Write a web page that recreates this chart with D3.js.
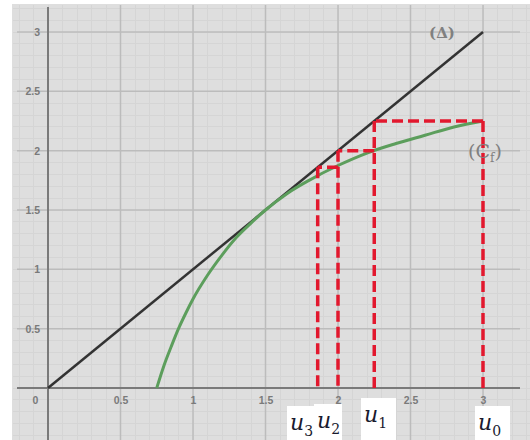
<!DOCTYPE html>
<html><head><meta charset="utf-8">
<script src="https://cdn.jsdelivr.net/npm/d3@7"></script>
<style>html,body{margin:0;padding:0;background:#fff;}svg{display:block;}</style>
</head><body>
<svg id="c" width="530" height="440"></svg>
<script>
// ---- data ----
const xTicks = [0, 0.5, 1, 1.5, 2, 2.5, 3];
const yTicks = [0.5, 1, 1.5, 2, 2.5, 3];
const deltaX = [0, 3];
const deltaY = [0, 3];
const curveX = [0.75, 0.8, 0.85, 0.9, 0.95, 1.0, 1.1, 1.2, 1.3, 1.4, 1.5, 1.65, 1.8, 2.0, 2.2, 2.4, 2.6, 2.8, 3.0];
const curveY = [0, 0.19, 0.35, 0.5, 0.63, 0.75, 0.95, 1.12, 1.27, 1.39, 1.5, 1.64, 1.75, 1.875, 1.98, 2.06, 2.13, 2.2, 2.25];
const uValues = [3, 2.25, 2.0, 1.86];
const uNames = ["u0", "u1", "u2", "u3"];

const svg = d3.select("#c");
const x = d3.scaleLinear().domain([0, 3]).range([48, 483]);
const y = d3.scaleLinear().domain([0, 3]).range([388, 32]);

// background
svg.append("rect").attr("x", 12).attr("y", 4).attr("width", 518).attr("height", 436).attr("fill", "#dedede");

// minor grid
const minorX = d3.range(-2, 35).map(d => d / 10);
const minorY = d3.range(-4, 33).map(d => d / 10);
const g = svg.append("g");
g.selectAll(".mx").data(minorX).join("line")
  .attr("x1", d => x(d)).attr("x2", d => x(d)).attr("y1", 5).attr("y2", 440)
  .attr("stroke", "#d5d5d5").attr("stroke-width", 1).attr("shape-rendering", "crispEdges");
g.selectAll(".my").data(minorY).join("line")
  .attr("y1", d => y(d)).attr("y2", d => y(d)).attr("x1", 13).attr("x2", 530)
  .attr("stroke", "#d5d5d5").attr("stroke-width", 1).attr("shape-rendering", "crispEdges");
// major grid
g.selectAll(".Mx").data(xTicks.slice(1)).join("line")
  .attr("x1", d => x(d)).attr("x2", d => x(d)).attr("y1", 5).attr("y2", 440)
  .attr("stroke", "#bcbcbc").attr("stroke-width", 1.5);
g.selectAll(".My").data(yTicks).join("line")
  .attr("y1", d => y(d)).attr("y2", d => y(d)).attr("x1", 17).attr("x2", 520)
  .attr("stroke", "#bcbcbc").attr("stroke-width", 1.5);

// axes lines
svg.append("line").attr("x1", 17).attr("x2", 520).attr("y1", y(0)).attr("y2", y(0))
  .attr("stroke", "#7a7a7a").attr("stroke-width", 2);
svg.append("line").attr("x1", x(0)).attr("x2", x(0)).attr("y1", 7).attr("y2", 440)
  .attr("stroke", "#7a7a7a").attr("stroke-width", 2);

// tick labels via d3 axes
const xa = svg.append("g").attr("transform", `translate(0,${y(0)})`)
  .call(d3.axisBottom(x).tickValues(xTicks).tickSize(0).tickPadding(9).tickFormat(d => d));
const ya = svg.append("g").attr("transform", `translate(${x(0)},0)`)
  .call(d3.axisLeft(y).tickValues(yTicks).tickSize(0).tickPadding(8).tickFormat(d => d));
[xa, ya].forEach(a => {
  a.select(".domain").remove();
  a.selectAll("text").attr("fill", "#7a7a7a").attr("font-family", "Liberation Sans, Arial, sans-serif")
    .attr("font-size", 10.5).attr("font-weight", "bold");
});
xa.selectAll(".tick").filter(d => d === 0).select("text").attr("dx", -13);

// delta line
const line = d3.line().x(d => x(d[0])).y(d => y(d[1]));
svg.append("path").datum(deltaX.map((d, i) => [d, deltaY[i]]))
  .attr("d", line).attr("fill", "none").attr("stroke", "#333").attr("stroke-width", 2.5);

// green curve
svg.append("path").datum(curveX.map((d, i) => [d, curveY[i]]))
  .attr("d", line.curve(d3.curveMonotoneX)).attr("fill", "none")
  .attr("stroke", "#5c9e5c").attr("stroke-width", 3);

// cobweb
const segs = [];
for (let i = 0; i < uValues.length; i++) {
  const u = uValues[i];
  if (i === 0) {
    segs.push([[u, 0], [u, uValues[1]]]);
  } else {
    segs.push([[uValues[i - 1], u], [u, u]]);
    segs.push([[u, u], [u, 0]]);
  }
}
svg.selectAll(".cw").data(segs).join("line")
  .attr("x1", d => x(d[0][0])).attr("y1", d => y(d[0][1]))
  .attr("x2", d => x(d[1][0])).attr("y2", d => y(d[1][1]))
  .attr("stroke", "#e2182e").attr("stroke-width", 3.5).attr("stroke-dasharray", "11,5");

// curve labels
svg.append("text").attr("x", 442).attr("y", 38).attr("text-anchor", "middle")
  .attr("font-family", "DejaVu Serif, serif").attr("font-size", 15).attr("font-weight", "bold").attr("fill", "#808080")
  .text("(Δ)");
const cf = svg.append("text").attr("x", 485).attr("y", 158).attr("text-anchor", "middle")
  .attr("font-family", "DejaVu Serif, serif").attr("font-size", 19).attr("fill", "#808080");
cf.append("tspan").text("(C");
cf.append("tspan").attr("font-size", 12).attr("dy", 4).text("f");
cf.append("tspan").attr("dy", -4).text(")");

// u labels
const uPos = [[492, 436], [378, 428], [331, 434], [304, 436]];
uValues.forEach((u, i) => {
  const [px, py] = uPos[i];
  svg.append("rect").attr("x", px - 17).attr("y", py - 30).attr("width", i === 2 ? 28 : 35).attr("height", 440 - (py - 30))
    .attr("fill", "#fff");
});
uValues.forEach((u, i) => {
  const [px, py] = uPos[i];
  const t = svg.append("text").attr("x", px - 14).attr("y", py - 6)
    .attr("font-family", "DejaVu Serif, serif")
    .attr("font-size", 22).attr("fill", "#1a1a2e");
  t.append("tspan").attr("font-style", "italic").text(uNames[i][0]);
  t.append("tspan").attr("font-size", 14).attr("dy", 6).text(uNames[i].slice(1));
});
</script>
</body></html>
